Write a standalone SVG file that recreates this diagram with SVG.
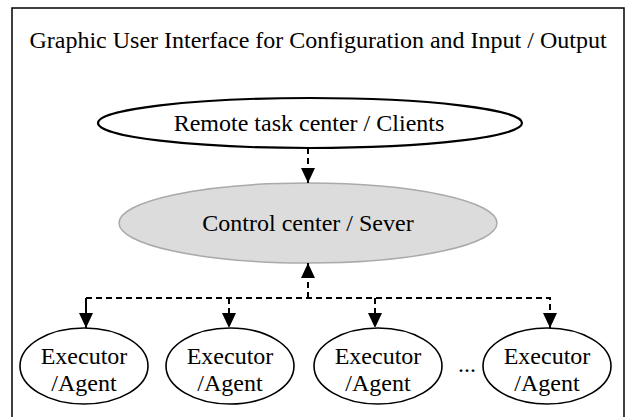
<svg xmlns="http://www.w3.org/2000/svg" width="626" height="417" viewBox="0 0 626 417">
<defs>
<style>
text{font-family:"Liberation Serif","Times New Roman",serif;fill:#000;text-anchor:middle;font-size:24px}
.e{fill:#fff;stroke:#000;stroke-width:1.6}
.c{fill:none;stroke:#000;stroke-width:2;stroke-dasharray:6 4}
</style>
<marker id="ah" markerWidth="14" markerHeight="16" refX="15" refY="7" orient="auto" markerUnits="userSpaceOnUse">
<path d="M0,0 L15,7 L0,14 Z" fill="#000"/>
</marker>
</defs>
<rect x="0" y="0" width="626" height="417" fill="#fff"/>
<g id="frame">
<rect x="12" y="8" width="612" height="420" fill="none" stroke="#000" stroke-width="1.5"/>
<text x="318" y="48">Graphic User Interface for Configuration and Input / Output</text>
</g>
<g id="clients">
<ellipse cx="310" cy="123" rx="212" ry="25" fill="#fff" stroke="#000" stroke-width="2.2"/>
<text x="309" y="131">Remote task center / Clients</text>
</g>
<g id="server">
<ellipse cx="308" cy="223" rx="189" ry="40" fill="#dcdcdc" stroke="#aaa" stroke-width="1.5"/>
<text x="308" y="231">Control center / Sever</text>
</g>
<g id="agent1">
<ellipse class="e" cx="84" cy="366" rx="64" ry="38"/>
<text x="84" y="364">Executor</text>
<text x="84" y="391">/Agent</text>
</g>
<g id="agent2">
<ellipse class="e" cx="230" cy="366" rx="64" ry="38"/>
<text x="230" y="364">Executor</text>
<text x="230" y="391">/Agent</text>
</g>
<g id="agent3">
<ellipse class="e" cx="378" cy="366" rx="64" ry="38"/>
<text x="378" y="364">Executor</text>
<text x="378" y="391">/Agent</text>
</g>
<g id="agent4">
<ellipse class="e" cx="547" cy="366" rx="64" ry="38"/>
<text x="547" y="364">Executor</text>
<text x="547" y="391">/Agent</text>
</g>
<text x="467" y="372">...</text>
<g id="connectors">
<path class="c" d="M308,148 V183" marker-end="url(#ah)"/>
<path class="c" d="M308,298 V263" marker-end="url(#ah)"/>
<path class="c" d="M86,328 V298 H550 V328" marker-end="url(#ah)"/>
<path class="c" d="M86,298 V328" marker-end="url(#ah)"/>
<path class="c" d="M229,298 V328" marker-end="url(#ah)"/>
<path class="c" d="M375,298 V328" marker-end="url(#ah)"/>
</g>
</svg>
